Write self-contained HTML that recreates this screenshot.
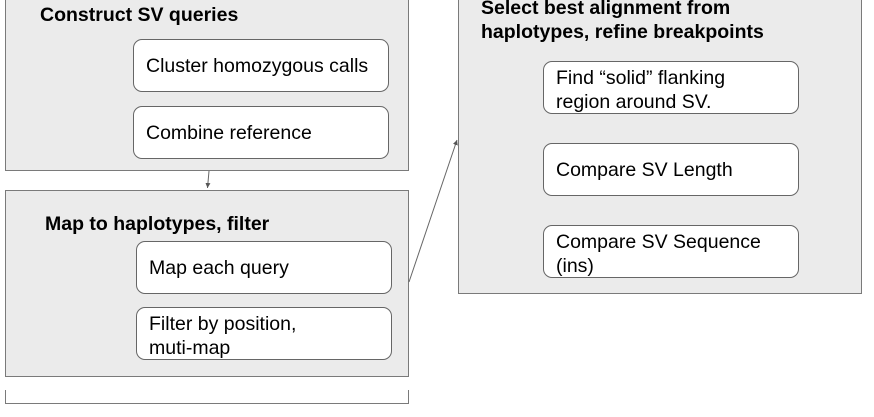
<!DOCTYPE html>
<html><head><style>
body{margin:0;width:874px;height:417px;background:#fff;position:relative;overflow:hidden;font-family:"Liberation Sans",Arial,sans-serif;color:#000}
.g{position:absolute;background:#ebebeb;border:1.5px solid #7a7a7a;box-sizing:border-box}
.i{position:absolute;background:#fff;border:1px solid #666;border-radius:9px;box-sizing:border-box;font-size:19.5px;line-height:24px;padding-left:12px;display:flex;align-items:center;white-space:nowrap}
.t{position:absolute;font-weight:bold;font-size:19.5px;line-height:24px;white-space:nowrap}
</style></head><body>
<div class="g" style="left:5px;top:-2px;width:404px;height:173px"></div>
<div class="t" style="left:40px;top:3px">Construct SV queries</div>
<div class="i" style="left:133px;top:39px;width:256px;height:53px">Cluster homozygous calls</div>
<div class="i" style="left:133px;top:106px;width:256px;height:53px">Combine reference</div>

<div class="g" style="left:5px;top:190px;width:404px;height:187px"></div>
<div class="t" style="left:45px;top:212px">Map to haplotypes, filter</div>
<div class="i" style="left:136px;top:241px;width:256px;height:53px">Map each query</div>
<div class="i" style="left:136px;top:307px;width:256px;height:53px;align-items:flex-start;padding-top:4px">Filter by position,<br>muti-map</div>

<div style="position:absolute;left:5px;top:390px;width:404px;height:14px;border:1.5px solid #7a7a7a;border-top:none;box-sizing:border-box"></div>

<div class="g" style="left:458px;top:-2px;width:404px;height:296px"></div>
<div class="t" style="left:481px;top:-4px">Select best alignment from<br>haplotypes, refine breakpoints</div>
<div class="i" style="left:543px;top:61px;width:256px;height:53px;align-items:flex-start;padding-top:4px">Find “solid” flanking<br>region around SV.</div>
<div class="i" style="left:543px;top:143px;width:256px;height:53px">Compare SV Length</div>
<div class="i" style="left:543px;top:225px;width:256px;height:53px;align-items:flex-start;padding-top:4px">Compare SV Sequence<br>(ins)</div>

<svg style="position:absolute;left:0;top:0" width="874" height="417">
<defs><marker id="a" markerWidth="6" markerHeight="6" refX="5" refY="3" orient="auto"><path d="M0,0.5 L5,3 L0,5.5Z" fill="#555"/></marker></defs>
<line x1="209" y1="171" x2="207.5" y2="188" stroke="#666" stroke-width="1" marker-end="url(#a)"/>
<line x1="409" y1="282" x2="457" y2="140" stroke="#666" stroke-width="1" marker-end="url(#a)"/>
</svg>
</body></html>
